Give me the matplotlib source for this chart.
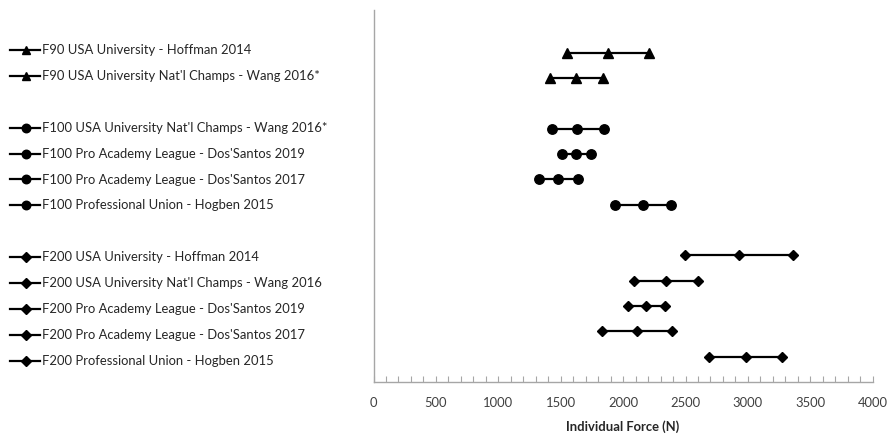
import matplotlib
matplotlib.use('Agg')
import matplotlib.pyplot as plt
from matplotlib.lines import Line2D
from matplotlib.ticker import MultipleLocator

plt.rcParams['font.family'] = ['Lato', 'DejaVu Sans']
plt.rcParams['font.size'] = 9.4

labels = [
    "F90 USA University - Hoffman 2014",
    "F90 USA University Nat'l Champs - Wang 2016*",
    "F100 USA University Nat'l Champs - Wang 2016*",
    "F100 Pro Academy League - Dos'Santos 2019",
    "F100 Pro Academy League - Dos'Santos 2017",
    "F100 Professional Union - Hogben 2015",
    "F200 USA University - Hoffman 2014",
    "F200 USA University Nat'l Champs - Wang 2016",
    "F200 Pro Academy League - Dos'Santos 2019",
    "F200 Pro Academy League - Dos'Santos 2017",
    "F200 Professional Union - Hogben 2015",
]
low = [1550, 1415, 1430, 1508, 1324, 1938, 2496, 2087, 2042, 1834, 2688]
mid = [1880, 1625, 1632, 1623, 1478, 2157, 2929, 2344, 2184, 2114, 2982]
high = [2210, 1836, 1845, 1740, 1638, 2381, 3361, 2599, 2336, 2392, 3273]
# row slot counted from the top, slots 2 and 7 are left empty
slot = [0, 1, 3, 4, 5, 6, 8, 9, 10, 11, 12]
markers = ['^'] * 2 + ['o'] * 4 + ['D'] * 5
msizes = {'^': 7, 'o': 6.8, 'D': 5.4}

W, H = 888, 436
fig = plt.figure(figsize=(W / 100, H / 100), dpi=100)
ax = fig.add_axes([373.5 / W, 1 - 382 / H, (872.7 - 373.5) / W, (382 - 10) / H])

for i in range(len(labels)):
    y = 13 - slot[i]
    m = markers[i]
    ax.plot([low[i], mid[i], high[i]], [y, y, y], color='black', lw=1.6,
            marker=m, markersize=msizes[m], clip_on=False)

    # legend-style label on the left
    yf = 1 - (50 + 25.9 * slot[i]) / H
    fig.add_artist(Line2D([10 / W, 40 / W], [yf, yf], color='black', lw=1.6,
                          transform=fig.transFigure))
    fig.add_artist(Line2D([26 / W], [yf], color='black', marker=m,
                          markersize=msizes[m] * 0.9, transform=fig.transFigure))
    fig.text(42 / W, yf, labels[i], ha='left', va='center', color='#262626')

ax.set_xlim(0, 4000)
ax.set_ylim(0, 14.69)
ax.set_yticks([])
ax.xaxis.set_major_locator(MultipleLocator(500))
ax.xaxis.set_minor_locator(MultipleLocator(100))
ax.tick_params(axis='x', which='both', direction='in', length=4, width=0.8,
               color='#a6a6a6', labelcolor='#404040', labelsize=9.4, pad=11)
for s in ['top', 'right']:
    ax.spines[s].set_visible(False)
for s in ['left', 'bottom']:
    ax.spines[s].set_color('#a6a6a6')
    ax.spines[s].set_linewidth(1.0)
ax.set_xlabel('Individual Force (N)', fontweight='bold', color='#262626',
              labelpad=8)

fig.savefig('out.png', dpi=100)
